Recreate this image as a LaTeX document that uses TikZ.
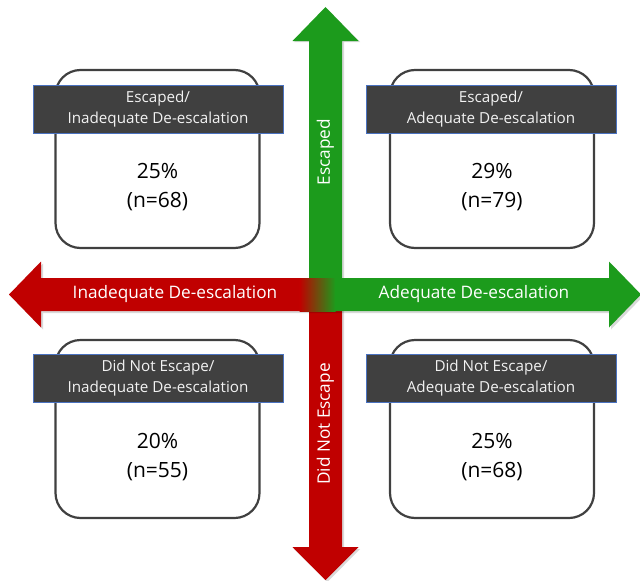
\documentclass[tikz,border=0pt]{standalone}
\usepackage{fontspec}
\setmainfont{Open Sans}
\definecolor{agreen}{HTML}{1C9B1C}
\definecolor{ared}{HTML}{C00000}
\definecolor{hdr}{HTML}{404040}
\definecolor{hdrline}{HTML}{4A72C0}
\definecolor{boxline}{HTML}{404040}
\definecolor{htext}{HTML}{F2F2F2}
\tikzset{
  qbox/.style={draw=boxline, line width=2.2pt, fill=white, rounded corners=25pt,
    minimum width=204pt, minimum height=178pt, inner sep=0pt},
  qhead/.style={draw=hdrline, line width=0.8pt, fill=hdr, text=htext,
    minimum width=250pt, minimum height=48pt, inner sep=0pt, align=center,
    font=\fontsize{15.2}{21}\selectfont},
  qnum/.style={align=center, text=black, font=\fontsize{21}{29}\selectfont},
  alabel/.style={text=white, font=\fontsize{17.2}{23}\selectfont, inner sep=0pt},
  ashadow/.style={fill=black, opacity=0.15}
}
\begin{document}
\begin{tikzpicture}[x=1pt,y=-1pt]
\useasboundingbox (0,0) rectangle (640,581);
% vertical arrow shadow
\fill[ashadow] (327.5,9) -- (360,42) -- (344,42) -- (344,549) -- (360,549) -- (327.5,582) -- (294,549) -- (311,549) -- (311,42) -- (294,42) -- cycle;
% vertical arrow: green top, red bottom
\fill[agreen] (325.5,7) -- (358.5,41) -- (342,41) -- (342,295) -- (309,295) -- (309,41) -- (292.5,41) -- cycle;
\fill[ared] (309,294) -- (342,294) -- (342,547) -- (358.5,547) -- (325.5,580) -- (292.5,547) -- (309,547) -- cycle;
% horizontal arrow shadow
\fill[ashadow] (11,296.5) -- (43,263.5) -- (43,280) -- (611,280) -- (611,263.5) -- (643,296.5) -- (611,329.5) -- (611,313) -- (43,313) -- (43,329.5) -- cycle;
% horizontal arrow: red left, gradient, green right
\fill[ared] (9,294.5) -- (41,261.5) -- (41,278) -- (300,278) -- (300,311) -- (41,311) -- (41,327.5) -- cycle;
\shade[left color=ared, right color=agreen] (299.5,278) rectangle (335.5,311);
\fill[agreen] (335,278) -- (609,278) -- (609,261.5) -- (641,294.5) -- (609,327.5) -- (609,311) -- (335,311) -- cycle;
% arrow labels
\node[alabel, rotate=90] (lesc) at (325.5,152) {Escaped};
\node[alabel, rotate=90] (ldne) at (325.5,424) {Did Not Escape};
\node[alabel] (linad) at (175,294) {Inadequate De-escalation};
\node[alabel] (lad) at (474,294) {Adequate De-escalation};
% quadrant boxes
\node[qbox] (tl) at (157.5,159) {};
\node[qbox] (tr) at (492,159) {};
\node[qbox] (bl) at (157.5,429) {};
\node[qbox] (br) at (492,429) {};
% headers
\node[qhead] (tlh) at (158,109) {Escaped/\\Inadequate De-escalation};
\node[qhead] (trh) at (491,109) {Escaped/\\Adequate De-escalation};
\node[qhead] (blh) at (158,378.5) {Did Not Escape/\\Inadequate De-escalation};
\node[qhead] (brh) at (491,378.5) {Did Not Escape/\\Adequate De-escalation};
% numbers
\node[qnum] (tln) at (157.5,187.5) {25\%\\(n=68)};
\node[qnum] (trn) at (492,187.5) {29\%\\(n=79)};
\node[qnum] (bln) at (157.5,457.5) {20\%\\(n=55)};
\node[qnum] (brn) at (492,457.5) {25\%\\(n=68)};
\end{tikzpicture}
\end{document}
